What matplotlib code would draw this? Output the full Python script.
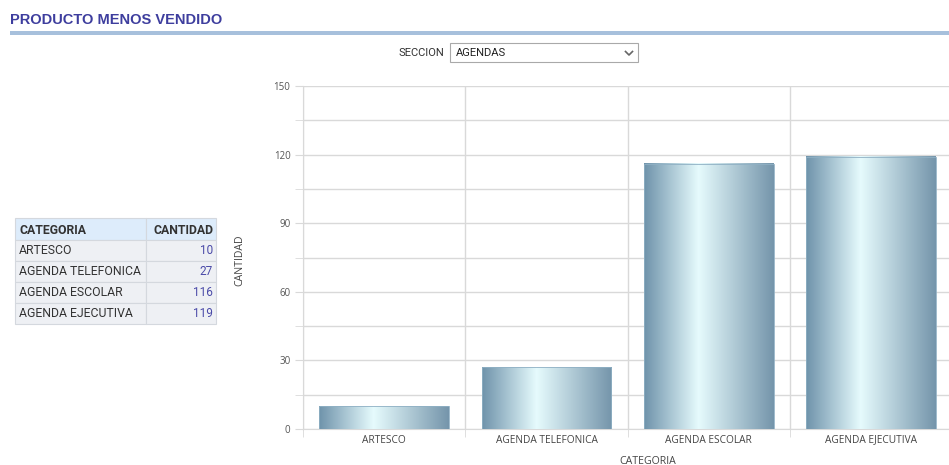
import numpy as np
import matplotlib
matplotlib.use("Agg")
import matplotlib.pyplot as plt
from matplotlib.colors import LinearSegmentedColormap
from matplotlib.patches import Rectangle
from matplotlib.lines import Line2D

# ---- data ----
categories = ["ARTESCO", "AGENDA TELEFONICA", "AGENDA ESCOLAR", "AGENDA EJECUTIVA"]
cantidad = [10, 27, 116, 119]
y_ticks = [0, 30, 60, 90, 120, 150]
table_headers = ["CATEGORIA", "CANTIDAD"]
seccion = "AGENDAS"

W, H = 949, 465
fig = plt.figure(figsize=(W / 100, H / 100), dpi=100)
fig.patch.set_facecolor("white")


def fx(px):
    return px / W


def fy(py):
    return 1 - py / H


# ---- header ----
fig.text(fx(10), fy(20), "PRODUCTO MENOS VENDIDO", fontsize=10.5, fontweight="bold",
         color="#3e3e9e", family="Liberation Sans", va="center", ha="left")
fig.add_artist(Rectangle((fx(10), fy(35)), fx(949) - fx(10), fy(31) - fy(35),
                         transform=fig.transFigure, color="#a7c0dc", lw=0))

# ---- section selector ----
fig.text(fx(444), fy(52.5), "SECCION", fontsize=8, color="#333333",
         family="Roboto", va="center", ha="right")
fig.add_artist(Rectangle((fx(450), fy(62)), fx(638) - fx(450), fy(43) - fy(62),
                         transform=fig.transFigure, facecolor="white",
                         edgecolor="#a9a9a9", lw=0.8))
fig.text(fx(456), fy(52.5), seccion, fontsize=8, color="#222222",
         family="Roboto", va="center", ha="left")
fig.add_artist(Line2D([fx(625.5), fx(629), fx(632.5)], [fy(51.5), fy(55), fy(51.5)],
                      transform=fig.transFigure, color="#666666", lw=1.2))

# ---- summary table ----
col_x = [15, 146, 216]
row_y = [218, 240, 261, 282, 303, 324]
hdr_bg = "#ddecfb"
row_bg = "#eef0f4"
for r in range(len(row_y) - 1):
    for c in range(2):
        x0, x1 = col_x[c], col_x[c + 1]
        y0, y1 = row_y[r], row_y[r + 1]
        fig.add_artist(Rectangle((fx(x0), fy(y1)), fx(x1) - fx(x0), fy(y0) - fy(y1),
                                 transform=fig.transFigure,
                                 facecolor=hdr_bg if r == 0 else row_bg,
                                 edgecolor="#d4d8de", lw=0.8))
for c, h in enumerate(table_headers):
    if c == 0:
        fig.text(fx(col_x[0] + 4), fy((row_y[0] + row_y[1]) / 2 + 1), h, fontsize=8.8,
                 fontweight="bold", color="#333333", family="Roboto",
                 va="center", ha="left")
    else:
        fig.text(fx(col_x[2] - 3), fy((row_y[0] + row_y[1]) / 2 + 1), h, fontsize=8.8,
                 fontweight="bold", color="#333333", family="Roboto",
                 va="center", ha="right")
for i, (cat, val) in enumerate(zip(categories, cantidad)):
    yc = (row_y[i + 1] + row_y[i + 2]) / 2
    fig.text(fx(col_x[0] + 4), fy(yc), cat, fontsize=8.8, color="#333333",
             family="Roboto", va="center", ha="left")
    fig.text(fx(col_x[2] - 3), fy(yc), str(val), fontsize=8.5, color="#4a4aa8",
             family="Roboto", va="center", ha="right")

# ---- chart ----
ax = fig.add_axes([fx(303), fy(429), 1 - fx(303), fy(86) - fy(429)])
x = np.arange(len(categories))

grid_c = "#d9d9d9"
ax.set_yticks(y_ticks)
ax.set_yticks(np.arange(15, 150, 30), minor=True)
ax.set_xticks(np.arange(len(categories) + 1) - 0.5, minor=True)
ax.set_xticks(x)
ax.set_xticklabels(categories)
ax.grid(True, which="both", axis="y", color=grid_c, lw=1)
ax.grid(True, which="minor", axis="x", color=grid_c, lw=1)
ax.tick_params(axis="y", which="both", length=6, color=grid_c, labelsize=7,
               labelcolor="#555555", pad=3)
ax.tick_params(axis="x", which="major", length=0, labelsize=7.3,
               labelcolor="#444444", pad=4)
ax.tick_params(axis="x", which="minor", length=6, color=grid_c)
for lab in ax.get_xticklabels() + ax.get_yticklabels():
    lab.set_family("Open Sans")
for s in ["top", "right"]:
    ax.spines[s].set_visible(False)
ax.spines["left"].set_color(grid_c)
ax.spines["bottom"].set_color(grid_c)
ax.set_axisbelow(True)

fig.text(fx(240), fy(260), "CANTIDAD", fontsize=7.6, color="#444444",
         family="Open Sans", rotation=90, va="center", ha="center")
fig.text(fx(648), fy(461), "CATEGORIA", fontsize=7.6, color="#444444",
         family="Open Sans", va="center", ha="center")

# horizontal steel-blue gradient bars
grad = LinearSegmentedColormap.from_list(
    "steel", [(0.0, "#6f93ab"), (0.42, "#e6fbfd"), (1.0, "#7595ab")])
bars = ax.bar(x, cantidad, width=0.8, color="none", edgecolor="none", zorder=3)
g = np.linspace(0, 1, 256).reshape(1, -1)
for b in bars:
    x0, w, h = b.get_x(), b.get_width(), b.get_height()
    ax.imshow(g, cmap=grad, aspect="auto", extent=(x0, x0 + w, 0, h),
              zorder=3, interpolation="bilinear")
    ax.add_patch(Rectangle((x0, 0), w, h, fill=False, edgecolor="#8fb0c4",
                           lw=0.6, zorder=4))
ax.set_xlim(-0.5, len(categories) - 0.5 - 0.02)
ax.set_ylim(0, 150)

fig.savefig("out.png", dpi=100)
